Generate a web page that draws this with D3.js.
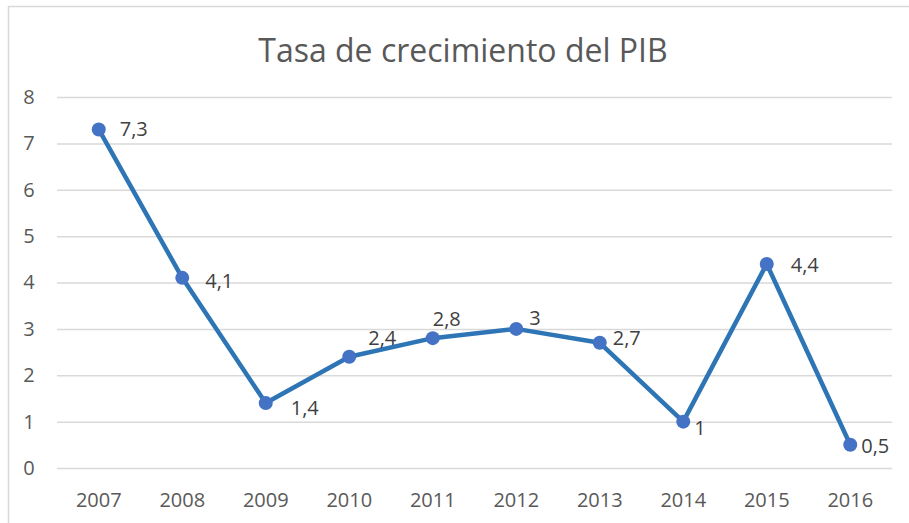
<!DOCTYPE html>
<html>
<head>
<meta charset="utf-8">
<script src="https://cdn.jsdelivr.net/npm/d3@7"></script>
<style>
  body { margin: 0; background: #fff; }
  text { font-family: "Open Sans", "Liberation Sans", sans-serif; }
</style>
</head>
<body>
<svg id="chart" width="909" height="523"></svg>
<script>
// datos
var years = ["2007", "2008", "2009", "2010", "2011", "2012", "2013", "2014", "2015", "2016"];
var growth = [7.3, 4.1, 1.4, 2.4, 2.8, 3, 2.7, 1, 4.4, 0.5];
var yTicks = [0, 1, 2, 3, 4, 5, 6, 7, 8];
// desplazamiento de cada etiqueta respecto a su punto (como quedo en excel)
var labelShift = [[21, 7], [23, 10], [25, 12], [19, -12], [0, -12], [13, -4], [13, 2], [11, 13], [24, 8], [11, 8]];

var svg = d3.select("#chart"),
    width = +svg.attr("width"),
    height = +svg.attr("height");

var margin = {top: 97, right: 17, bottom: 55, left: 57};

// marco del area del grafico
svg.append("rect")
    .attr("x", 8.5).attr("y", 6.5)
    .attr("width", width + 10).attr("height", height + 10)
    .attr("fill", "none")
    .attr("stroke", "#d9d9d9")
    .attr("stroke-width", 1.5);

var x = d3.scaleBand()
    .domain(years)
    .range([margin.left, width - margin.right]);

var y = d3.scaleLinear()
    .domain([0, 8])
    .range([height - margin.bottom, margin.top]);

// titulo
svg.append("text")
    .attr("x", 463)
    .attr("y", 62)
    .attr("text-anchor", "middle")
    .attr("fill", "#595959")
    .style("font-size", "32px")
    .text("Tasa de crecimiento del PIB");

// lineas de cuadricula + etiquetas eje y
var yAxis = svg.append("g")
    .attr("transform", "translate(" + margin.left + ",0)")
    .call(d3.axisLeft(y).tickValues(yTicks).tickSize(-(width - margin.left - margin.right)));
yAxis.select(".domain").remove();
yAxis.selectAll("line").attr("stroke", "#d9d9d9").attr("stroke-width", 1.5);
yAxis.selectAll("text")
    .attr("x", -28)
    .attr("fill", "#595959")
    .style("font-size", "20px")
    .attr("text-anchor", "middle");

var xAxis = svg.append("g")
    .attr("transform", "translate(0," + (height - margin.bottom) + ")")
    .call(d3.axisBottom(x).tickSize(0).tickPadding(25));
xAxis.select(".domain").remove();
xAxis.selectAll("text")
    .attr("fill", "#595959")
    .style("font-size", "20px");

var cx = function(d, i) { return x(years[i]) + x.bandwidth() / 2; };

var line = d3.line()
    .x(function(d, i) { return cx(d, i); })
    .y(function(d) { return y(d); });

svg.append("path")
    .datum(growth)
    .attr("fill", "none")
    .attr("stroke", "#2e75b6")
    .attr("stroke-width", 4.5)
    .attr("stroke-linejoin", "round")
    .attr("d", line);

svg.selectAll(".punto")
    .data(growth)
    .enter().append("circle")
    .attr("class", "punto")
    .attr("cx", cx)
    .attr("cy", function(d) { return y(d); })
    .attr("r", 7)
    .attr("fill", "#4472c4");

svg.selectAll(".etiqueta")
    .data(growth)
    .enter().append("text")
    .attr("class", "etiqueta")
    .attr("x", function(d, i) { return cx(d, i) + labelShift[i][0]; })
    .attr("y", function(d) { return y(d); })
    .attr("dy", function(d, i) { return labelShift[i][1]; })
    .attr("fill", "#404040")
    .style("font-size", "20px")
    .text(function(d) { return String(d).replace(".", ","); });
</script>
</body>
</html>
